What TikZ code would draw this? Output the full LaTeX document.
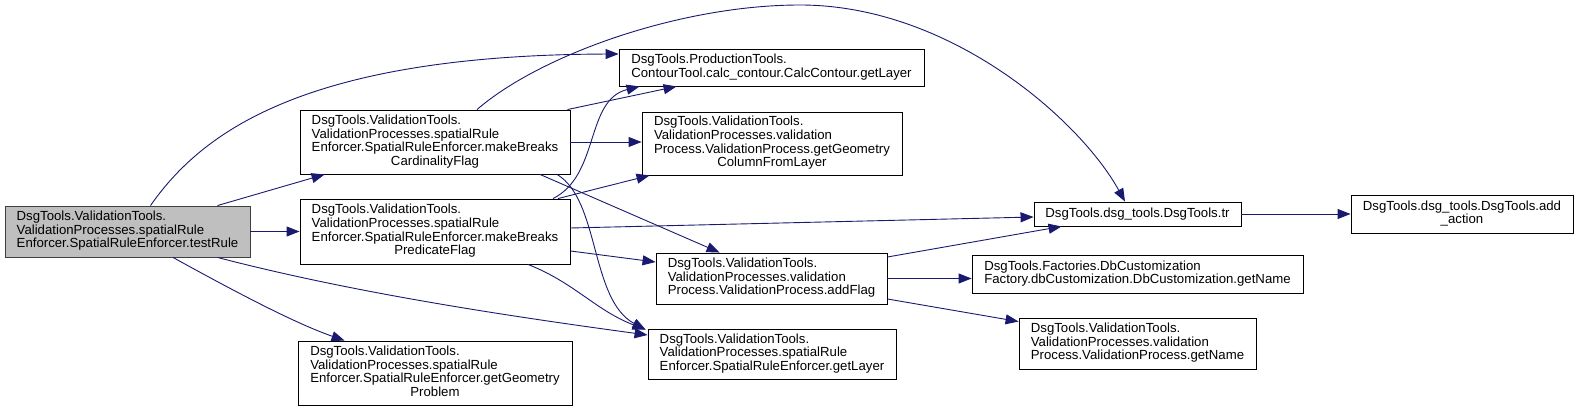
\documentclass[tikz,border=0pt]{standalone}
\usepackage{fontspec}
\setmainfont{Liberation Sans}
\usepackage{tikz}
\usetikzlibrary{positioning,arrows.meta,calc}
\definecolor{callblue}{RGB}{25,25,112}
\definecolor{curgray}{RGB}{191,191,191}
% label: left-aligned lines, last line centred
\newcommand{\fnlbl}[2]{\begin{tabular}{@{}l@{}}#1\\\multicolumn{1}{@{}c@{}}{#2}\end{tabular}}

\begin{document}
\begin{tikzpicture}[
  x=1pt, y=-1pt,
  font=\fontsize{13.2}{13.3}\selectfont,
  fn/.style={draw=black, line width=0.9pt, inner sep=0pt, align=center, fill=white},
  fncur/.style={fn, draw=black!75, fill=curgray},
  call/.style={-{Triangle[length=13pt,width=10pt]}, callblue, line width=0.9pt},
]
\useasboundingbox (0,0) rectangle (1578,411);
% ---- caller ----
\node[fncur, minimum width=245, minimum height=51] (trule) at (127.5,231.5) {\fnlbl{DsgTools.ValidationTools.\\ValidationProcesses.spatialRule}{Enforcer.SpatialRuleEnforcer.testRule}};
% ---- first column ----
\node[fn, minimum width=270, minimum height=64] (mbcard) at (435,142) {\fnlbl{DsgTools.ValidationTools.\\ValidationProcesses.spatialRule\\Enforcer.SpatialRuleEnforcer.makeBreaks}{CardinalityFlag}};
\node[fn, minimum width=270, minimum height=65] (mbpred) at (435,231.5) {\fnlbl{DsgTools.ValidationTools.\\ValidationProcesses.spatialRule\\Enforcer.SpatialRuleEnforcer.makeBreaks}{PredicateFlag}};
\node[fn, minimum width=274, minimum height=64] (geoprob) at (435,373) {\fnlbl{DsgTools.ValidationTools.\\ValidationProcesses.spatialRule\\Enforcer.SpatialRuleEnforcer.getGeometry}{Problem}};
% ---- second column ----
\node[fn, minimum width=305, minimum height=37] (ctlayer) at (771.5,67.5) {\fnlbl{DsgTools.ProductionTools.}{ContourTool.calc\_contour.CalcContour.getLayer}};
\node[fn, minimum width=260, minimum height=63] (geocol) at (772,143.5) {\fnlbl{DsgTools.ValidationTools.\\ValidationProcesses.validation\\Process.ValidationProcess.getGeometry}{ColumnFromLayer}};
\node[fn, minimum width=231, minimum height=51] (addflag) at (771.5,278.5) {\fnlbl{DsgTools.ValidationTools.\\ValidationProcesses.validation}{Process.ValidationProcess.addFlag}};
\node[fn, minimum width=248, minimum height=50] (srlayer) at (772,354) {\fnlbl{DsgTools.ValidationTools.\\ValidationProcesses.spatialRule}{Enforcer.SpatialRuleEnforcer.getLayer}};
% ---- third column ----
\node[fn, minimum width=207, minimum height=24] (trf) at (1137.5,214) {DsgTools.dsg\_tools.DsgTools.tr};
\node[fn, minimum width=331, minimum height=38] (dbname) at (1137.5,274) {\fnlbl{DsgTools.Factories.DbCustomization}{Factory.dbCustomization.DbCustomization.getName}};
\node[fn, minimum width=237, minimum height=51] (vpname) at (1137.5,343.5) {\fnlbl{DsgTools.ValidationTools.\\ValidationProcesses.validation}{Process.ValidationProcess.getName}};
\node[fn, minimum width=222, minimum height=38] (addact) at (1462,214) {\fnlbl{DsgTools.dsg\_tools.DsgTools.add}{\_action}};
% ---- calls from testRule ----
\draw[call] ($(trule.north)+(23,0)$) .. controls (200,135) and (300,55) .. ($(ctlayer.west)+(0,-13.5)$);
\draw[call] ($(trule.north)+(90,0)$) -- ($(mbcard.south west)+(25,0)$);
\draw[call] (trule.east) -- (mbpred.west);
\draw[call] ($(trule.south)+(45.5,0)$) .. controls (250,300) and (300,325) .. ($(geoprob.north west)+(47,0)$);
\draw[call] ($(trule.south)+(90,0)$) .. controls (350,292) and (500,315) .. ($(srlayer.west)+(0,-19)$);
% ---- calls from makeBreaksCardinalityFlag ----
\draw[call] ($(mbcard.north)+(42,0)$) .. controls (540,55) and (680,5) .. (800,5) .. controls (950,5) and (1080,120) .. ($(trf.north)+(-12.5,0)$);
\draw[call] ($(mbcard.north east)+(-3,0)$) -- ($(ctlayer.south west)+(58,0)$);
\draw[call] (mbcard.east) -- (mbcard.east -| geocol.west);
\draw[call] ($(mbcard.south)+(105,0)$) -- ($(addflag.north west)+(64,0)$);
\draw[call] ($(mbcard.south)+(122,0)$) .. controls (600,200) and (590,300) .. ($(srlayer.north west)+(-2,1)$);
% ---- calls from makeBreaksPredicateFlag ----
\draw[call] ($(mbpred.north)+(118,0)$) .. controls (600,175) and (585,100) .. ($(ctlayer.south west)+(21,0)$);
\draw[call] ($(mbpred.north)+(123,0)$) -- ($(geocol.south west)+(8,0)$);
\draw[call] ($(mbpred.east)+(0,-3.5)$) -- ($(trf.west)+(0,3)$);
\draw[call] ($(mbpred.east)+(0,19.5)$) -- ($(addflag.west)+(0,-16.5)$);
\draw[call] ($(mbpred.south)+(93,0)$) .. controls (575,283) and (595,310) .. ($(srlayer.north west)+(-2,1)$);
% ---- calls from addFlag and tr ----
\draw[call] ($(addflag.east)+(0,-21.5)$) -- ($(trf.south west)+(28,0)$);
\draw[call] (addflag.east) -- (addflag.east -| dbname.west);
\draw[call] ($(addflag.east)+(0,20.5)$) -- ($(vpname.north west)+(0,4)$);
\draw[call] (trf.east) -- (addact.west);
\end{tikzpicture}
\end{document}
